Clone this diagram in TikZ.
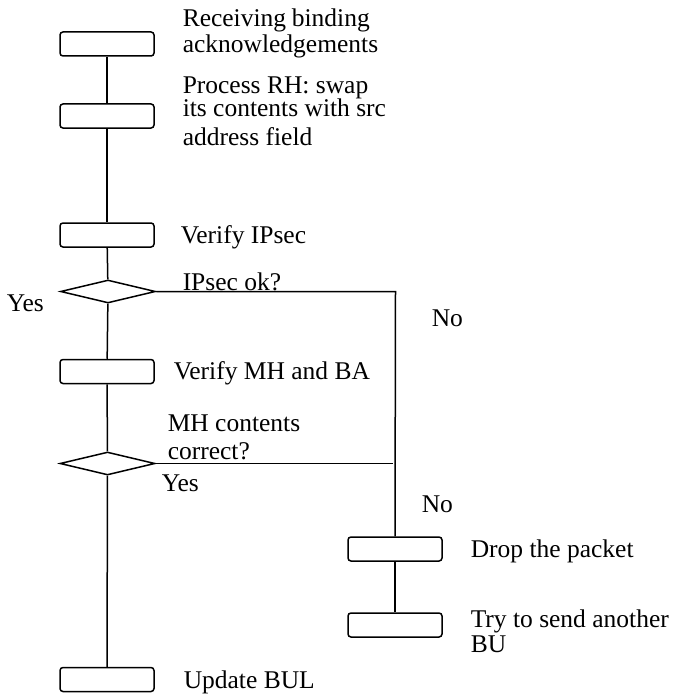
\documentclass[tikz,border=0pt]{standalone}
\usepackage{fontspec}
\setmainfont{Liberation Serif}
\usetikzlibrary{shapes.geometric}
\begin{document}
\begin{tikzpicture}[x=1pt,y=-1pt,
  every path/.style={line width=1.5pt},
  stepbox/.style={draw, rounded corners=3pt, minimum width=94pt, minimum height=24pt, inner sep=0pt},
  decision/.style={draw, diamond, minimum width=95pt, minimum height=23pt, inner sep=0pt},
  txt/.style={anchor=base west, inner sep=0pt, font=\fontsize{25.5}{25.5}\selectfont},
  conn/.style={line width=1.5pt}]
\useasboundingbox (0,0) rectangle (684,698);
% boxes
\node[stepbox] (b1) at (107,44) {};
\node[stepbox] (b2) at (107,116) {};
\node[stepbox] (b3) at (107,235) {};
\node[decision] (d1) at (108,291.5) {};
\node[stepbox] (b4) at (107,371.5) {};
\node[decision] (d2) at (107.5,463.5) {};
\node[stepbox] (b5) at (107,679.5) {};
\node[stepbox] (b6) at (395,549) {};
\node[stepbox] (b7) at (395,625) {};
\coordinate (j1) at (395.5,291.5);
\coordinate (j2) at (392.5,463.5);
% connectors
\draw[conn] (b1) -- (b2);
\draw[conn] (b2) -- (b3);
\draw[conn] (b3) -- (d1);
\draw[conn] (d1) -- (b4);
\draw[conn] (b4) -- (d2);
\draw[conn] (d2) -- (b5);
\draw[conn] (d1.east) -- (j1) -- (b6.north);
\draw[conn] (d2.east) -- (j2);
\draw[conn] (b6) -- (b7);
% texts
\node[txt] (t1) at (182,27) {\makebox[187pt][s]{Receiving\hfill binding}};
\node[txt] (t2) at (182,53) {acknowledgements};
\node[txt] (t3) at (182,94) {Process RH: swap};
\node[txt] (t4) at (182,117) {its contents with src};
\node[txt] (t5) at (182,145) {address field};
\node[txt] (t6) at (180,243) {Verify IPsec};
\node[txt] (t7) at (182,290) {IPsec ok?};
\node[txt] (t8) at (6,311) {Yes};
\node[txt] (t9) at (431,326) {No};
\node[txt] (t10) at (173,379) {Verify MH and BA};
\node[txt] (t11) at (167,431) {MH contents};
\node[txt] (t12) at (167,459) {correct?};
\node[txt] (t13) at (161,491) {Yes};
\node[txt] (t14) at (421,512) {No};
\node[txt] (t15) at (470,557) {Drop the packet};
\node[txt] (t16) at (470,627) {Try to send another};
\node[txt] (t17) at (470,652) {BU};
\node[txt] (t18) at (183,688) {Update BUL};
\end{tikzpicture}
\end{document}
